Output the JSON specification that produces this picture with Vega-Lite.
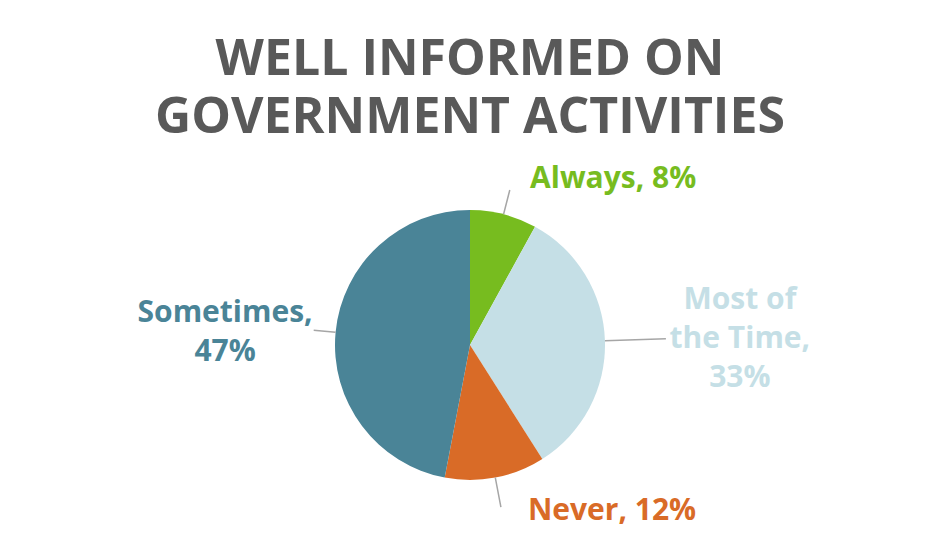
{
  "$schema": "https://vega.github.io/schema/vega-lite/v6.json",
  "width": 940,
  "height": 390,
  "autosize": {"type": "none"},
  "padding": {"top": 150, "left": 0, "right": 0, "bottom": 0},
  "background": "#ffffff",
  "config": {"view": {"stroke": null}},
  "layer": [
    {
      "data": {"values": [{"title": "WELL INFORMED ON\nGOVERNMENT ACTIVITIES"}]},
      "mark": {"type": "text", "align": "center", "baseline": "alphabetic", "dy": -270, "lineBreak": "\n", "lineHeight": 58, "font": "Open Sans", "fontWeight": 700, "fontSize": 50, "color": "#595959"},
      "encoding": {"text": {"field": "title", "type": "nominal"}}
    },
    {
      "data": {
        "values": [
          {"category": "Always", "pct": 8, "order": 1, "label": "Always, 8%"},
          {"category": "Most of the Time", "pct": 33, "order": 2, "label": "Most of\nthe Time,\n33%"},
          {"category": "Never", "pct": 12, "order": 3, "label": "Never, 12%"},
          {"category": "Sometimes", "pct": 47, "order": 4, "label": "Sometimes,\n47%"}
        ]
      },
      "encoding": {
        "theta": {"field": "pct", "type": "quantitative", "stack": true},
        "order": {"field": "order", "type": "quantitative"},
        "color": {
          "field": "category",
          "type": "nominal",
          "scale": {
            "domain": ["Always", "Most of the Time", "Never", "Sometimes"],
            "range": ["#77bc1f", "#c5dfe6", "#d96b27", "#4a8497"]
          },
          "legend": null
        }
      },
      "layer": [
        {"mark": {"type": "arc", "outerRadius": 135}},
        {
          "mark": {"type": "arc", "radius": 160, "radius2": 135, "padAngle": 3, "filled": false, "strokeWidth": 1.5},
          "encoding": {
            "color": {"value": "#a6a6a6"},
            "strokeOpacity": {"condition": {"test": "datum.category === 'Always'", "value": 1}, "value": 0}
          }
        },
        {
          "mark": {"type": "arc", "radius": 196, "radius2": 135, "padAngle": 3, "filled": false, "strokeWidth": 1.5},
          "encoding": {
            "color": {"value": "#a6a6a6"},
            "strokeOpacity": {"condition": {"test": "datum.category === 'Most of the Time'", "value": 1}, "value": 0}
          }
        },
        {
          "mark": {"type": "arc", "radius": 165, "radius2": 135, "padAngle": 3, "filled": false, "strokeWidth": 1.5},
          "encoding": {
            "color": {"value": "#a6a6a6"},
            "strokeOpacity": {"condition": {"test": "datum.category === 'Never'", "value": 1}, "value": 0}
          }
        },
        {
          "mark": {"type": "arc", "radius": 157, "radius2": 135, "padAngle": 3, "filled": false, "strokeWidth": 1.5},
          "encoding": {
            "color": {"value": "#a6a6a6"},
            "strokeOpacity": {"condition": {"test": "datum.category === 'Sometimes'", "value": 1}, "value": 0}
          }
        },
        {
          "mark": {"type": "text", "radius": 173, "align": "left", "baseline": "middle", "dx": 17, "dy": 2, "font": "Open Sans", "fontWeight": 700, "fontSize": 30},
          "encoding": {"text": {"condition": {"test": "datum.category === 'Always'", "field": "label"}, "value": ""}}
        },
        {
          "mark": {"type": "text", "radius": 270, "align": "center", "baseline": "middle", "dy": -37, "lineBreak": "\n", "lineHeight": 39, "font": "Open Sans", "fontWeight": 700, "fontSize": 30},
          "encoding": {"text": {"condition": {"test": "datum.category === 'Most of the Time'", "field": "label"}, "value": ""}}
        },
        {
          "mark": {"type": "text", "radius": 165, "align": "left", "baseline": "middle", "dx": 27, "dy": 4, "font": "Open Sans", "fontWeight": 700, "fontSize": 30},
          "encoding": {"text": {"condition": {"test": "datum.category === 'Never'", "field": "label"}, "value": ""}}
        },
        {
          "mark": {"type": "text", "radius": 246, "align": "center", "baseline": "middle", "dy": -9, "lineBreak": "\n", "lineHeight": 39, "font": "Open Sans", "fontWeight": 700, "fontSize": 30},
          "encoding": {"text": {"condition": {"test": "datum.category === 'Sometimes'", "field": "label"}, "value": ""}}
        }
      ]
    }
  ]
}
